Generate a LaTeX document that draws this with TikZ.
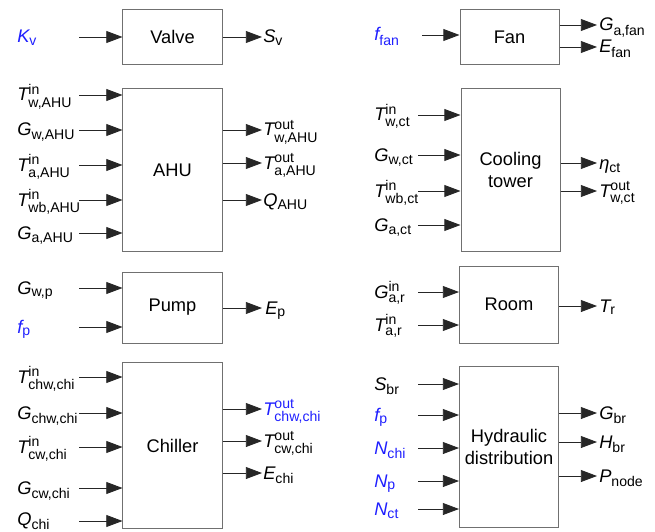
\documentclass[tikz,border=0pt]{standalone}
\usepackage{fontspec}
\setmainfont{Liberation Sans}
\usepackage{amsmath}
\usepackage{tikz}
\usetikzlibrary{arrows.meta}
\DeclareMathSizes{13}{13}{10}{8}
\definecolor{VarBlue}{HTML}{1F1FFF}
\definecolor{BoxLine}{HTML}{707070}
\newcommand{\vsub}[2]{{\itshape #1}$_{\text{#2}}$}
\newcommand{\vboth}[3]{{\itshape #1}$^{\text{#3}}_{\text{#2}}$}

\begin{document}
\begin{tikzpicture}[x=0.025cm,y=-0.025cm,font=\fontsize{13}{15}\selectfont,
  box/.style={draw=BoxLine,line width=0.7pt,minimum width=2.475cm,inner sep=0pt,align=center},
  arr/.style={draw=black!85,line width=0.6pt,-{Triangle[length=11.5pt,width=8.5pt]}},
  lab/.style={anchor=base west,inner sep=0pt},
  var/.style={lab,text=VarBlue}]
\path[use as bounding box] (0,0) rectangle (655,531);
% blocks
\node[box,minimum height=1.35cm] (valve) at (172.5,37) {Valve};
\node[box,minimum height=4.05cm] (ahu) at (172.5,170) {AHU};
\node[box,minimum height=1.775cm] (pump) at (172.5,307.5) {Pump};
\node[box,minimum height=4.125cm] (chiller) at (172.5,445.5) {Chiller};
\node[box,minimum height=1.35cm] (fan) at (509.5,37) {Fan};
\node[box,minimum height=4.05cm] (tower) at (510.5,170) {Cooling\\tower};
\node[box,minimum height=1.925cm] (room) at (509,304.5) {Room};
\node[box,minimum height=4cm] (hydro) at (509,447) {Hydraulic\\distribution};
% valve
\draw[arr] (79,37) coordinate (kvS) -- (kvS -| valve.west);
\node[var] (kv) at (17,43) {\vsub{K}{v}};
\coordinate (svE) at (262,37);
\draw[arr] (svE -| valve.east) -- (svE);
\node[lab] (sv) at (263,43) {\vsub{S}{v}};
% AHU
\draw[arr] (79,95) coordinate (ahuS1) -- (ahuS1 -| ahu.west);
\node[lab] (twin) at (17,101) {\vboth{T}{w,AHU}{in}};
\draw[arr] (79,130) coordinate (ahuS2) -- (ahuS2 -| ahu.west);
\node[lab] (gw) at (17,136) {\vsub{G}{w,AHU}};
\draw[arr] (79,165) coordinate (ahuS3) -- (ahuS3 -| ahu.west);
\node[lab] (tain) at (17,171) {\vboth{T}{a,AHU}{in}};
\draw[arr] (79,200) coordinate (ahuS4) -- (ahuS4 -| ahu.west);
\node[lab] (twbin) at (17,206) {\vboth{T}{wb,AHU}{in}};
\draw[arr] (79,233) coordinate (ahuS5) -- (ahuS5 -| ahu.west);
\node[lab] (ga) at (17,239) {\vsub{G}{a,AHU}};
\coordinate (ahuE1) at (262,130);
\draw[arr] (ahuE1 -| ahu.east) -- (ahuE1);
\node[lab] (twout) at (263,136) {\vboth{T}{w,AHU}{out}};
\coordinate (ahuE2) at (262,163);
\draw[arr] (ahuE2 -| ahu.east) -- (ahuE2);
\node[lab] (taout) at (263,169) {\vboth{T}{a,AHU}{out}};
\coordinate (ahuE3) at (262,200);
\draw[arr] (ahuE3 -| ahu.east) -- (ahuE3);
\node[lab] (qahu) at (263,206) {\vsub{Q}{AHU}};
% pump
\draw[arr] (79,288) coordinate (pumpS1) -- (pumpS1 -| pump.west);
\node[lab] (gwp) at (17,294) {\vsub{G}{w,p}};
\draw[arr] (79,327) coordinate (pumpS2) -- (pumpS2 -| pump.west);
\node[var] (fp) at (17,333) {\vsub{f}{p}};
\coordinate (pumpE) at (262,308);
\draw[arr] (pumpE -| pump.east) -- (pumpE);
\node[lab] (ep) at (265,314) {\vsub{E}{p}};
% chiller
\draw[arr] (79,377) coordinate (chiS1) -- (chiS1 -| chiller.west);
\node[lab] (tchwin) at (17,383) {\vboth{T}{chw,chi}{in}};
\draw[arr] (79,413) coordinate (chiS2) -- (chiS2 -| chiller.west);
\node[lab] (gchw) at (17,419) {\vsub{G}{chw,chi}};
\draw[arr] (79,447) coordinate (chiS3) -- (chiS3 -| chiller.west);
\node[lab] (tcwin) at (17,453) {\vboth{T}{cw,chi}{in}};
\draw[arr] (79,488) coordinate (chiS4) -- (chiS4 -| chiller.west);
\node[lab] (gcw) at (17,494) {\vsub{G}{cw,chi}};
\draw[arr] (79,521) coordinate (chiS5) -- (chiS5 -| chiller.west);
\node[lab] (qchi) at (17,525) {\vsub{Q}{chi}};
\coordinate (chiE1) at (262,409);
\draw[arr] (chiE1 -| chiller.east) -- (chiE1);
\node[var] (tchwout) at (263,415) {\vboth{T}{chw,chi}{out}};
\coordinate (chiE2) at (262,441);
\draw[arr] (chiE2 -| chiller.east) -- (chiE2);
\node[lab] (tcwout) at (263,447) {\vboth{T}{cw,chi}{out}};
\coordinate (chiE3) at (262,473);
\draw[arr] (chiE3 -| chiller.east) -- (chiE3);
\node[lab] (echi) at (263,479) {\vsub{E}{chi}};
% fan
\draw[arr] (422,35) coordinate (fanS) -- (fanS -| fan.west);
\node[var] (ffan) at (374,41) {\vsub{f}{fan}};
\coordinate (fanE1) at (597,25);
\draw[arr] (fanE1 -| fan.east) -- (fanE1);
\node[lab] (gafan) at (599,31) {\vsub{G}{a,fan}};
\coordinate (fanE2) at (597,47);
\draw[arr] (fanE2 -| fan.east) -- (fanE2);
\node[lab] (efan) at (599,53) {\vsub{E}{fan}};
% cooling tower
\draw[arr] (418,115) coordinate (ctS1) -- (ctS1 -| tower.west);
\node[lab] (twct) at (374,121) {\vboth{T}{w,ct}{in}};
\draw[arr] (418,155) coordinate (ctS2) -- (ctS2 -| tower.west);
\node[lab] (gwct) at (374,161) {\vsub{G}{w,ct}};
\draw[arr] (418,191) coordinate (ctS3) -- (ctS3 -| tower.west);
\node[lab] (twbct) at (374,197) {\vboth{T}{wb,ct}{in}};
\draw[arr] (418,225) coordinate (ctS4) -- (ctS4 -| tower.west);
\node[lab] (gact) at (374,231) {\vsub{G}{a,ct}};
\coordinate (ctE1) at (597,163);
\draw[arr] (ctE1 -| tower.east) -- (ctE1);
\node[lab] (etact) at (599,169) {\vsub{η}{ct}};
\coordinate (ctE2) at (597,191);
\draw[arr] (ctE2 -| tower.east) -- (ctE2);
\node[lab] (twctout) at (599,197) {\vboth{T}{w,ct}{out}};
% room
\draw[arr] (418,292) coordinate (roomS1) -- (roomS1 -| room.west);
\node[lab] (gar) at (374,298) {\vboth{G}{a,r}{in}};
\draw[arr] (418,325) coordinate (roomS2) -- (roomS2 -| room.west);
\node[lab] (tar) at (374,331) {\vboth{T}{a,r}{in}};
\coordinate (roomE) at (597,306);
\draw[arr] (roomE -| room.east) -- (roomE);
\node[lab] (tr) at (599,312) {\vsub{T}{r}};
% hydraulic distribution
\draw[arr] (418,384) coordinate (hydS1) -- (hydS1 -| hydro.west);
\node[lab] (sbr) at (374,390) {\vsub{S}{br}};
\draw[arr] (418,415) coordinate (hydS2) -- (hydS2 -| hydro.west);
\node[var] (fph) at (374,421) {\vsub{f}{p}};
\draw[arr] (418,448) coordinate (hydS3) -- (hydS3 -| hydro.west);
\node[var] (nchi) at (374,454) {\vsub{N}{chi}};
\draw[arr] (418,481) coordinate (hydS4) -- (hydS4 -| hydro.west);
\node[var] (np) at (374,487) {\vsub{N}{p}};
\draw[arr] (418,509) coordinate (hydS5) -- (hydS5 -| hydro.west);
\node[var] (nct) at (374,515) {\vsub{N}{ct}};
\coordinate (hydE1) at (597,413);
\draw[arr] (hydE1 -| hydro.east) -- (hydE1);
\node[lab] (gbr) at (599,419) {\vsub{G}{br}};
\coordinate (hydE2) at (597,442);
\draw[arr] (hydE2 -| hydro.east) -- (hydE2);
\node[lab] (hbr) at (599,448) {\vsub{H}{br}};
\coordinate (hydE3) at (597,476);
\draw[arr] (hydE3 -| hydro.east) -- (hydE3);
\node[lab] (pnode) at (599,482) {\vsub{P}{node}};
\end{tikzpicture}
\end{document}
